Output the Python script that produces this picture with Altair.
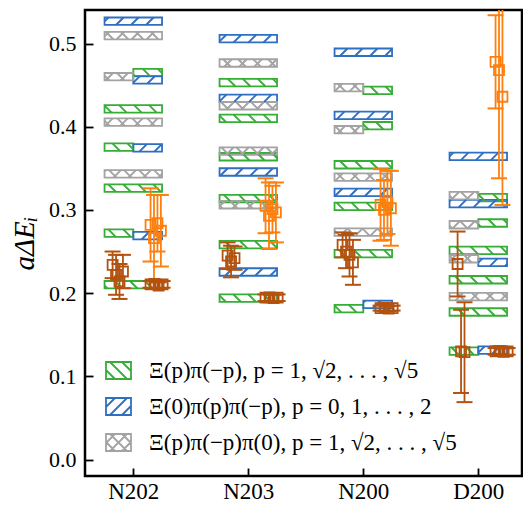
import json
import numpy as np
import pandas as pd
import altair as alt

# ---------------- data ----------------
ensembles = ["N202", "N203", "N200", "D200"]

series_labels = [
    "Ξ(p)π(−p),  p = 1, √2, . . . , √5",
    "Ξ(0)π(p)π(−p),  p = 0, 1, . . . , 2",
    "Ξ(p)π(−p)π(0),  p = 1, √2, . . . , √5",
]
series_colors = ["#36ad36", "#2e6fc1", "#a3a3a3"]
series_hatch = ["back", "fwd", "cross"]

# non-interacting levels: (ensemble, value, slot)
green_levels = [
    ("N202", 0.4651, "right"), ("N202", 0.4215, "full"), ("N202", 0.3754, "left"),
    ("N202", 0.3263, "full"), ("N202", 0.2722, "left"), ("N202", 0.2101, "full"),
    ("N203", 0.4531, "full"), ("N203", 0.4101, "full"), ("N203", 0.3639, "full"),
    ("N203", 0.3135, "full"), ("N203", 0.2582, "full"), ("N203", 0.1941, "full"),
    ("N200", 0.4438, "right"), ("N200", 0.4012, "right"), ("N200", 0.3543, "full"),
    ("N200", 0.3043, "full"), ("N200", 0.2474, "full"), ("N200", 0.1813, "left"),
    ("D200", 0.3147, "right"), ("D200", 0.2843, "right"), ("D200", 0.2514, "full"),
    ("D200", 0.2161, "full"), ("D200", 0.1773, "full"), ("D200", 0.1304, "left"),
]
blue_levels = [
    ("N202", 0.5268, "full"), ("N202", 0.4564, "right"), ("N202", 0.3746, "right"),
    ("N202", 0.2690, "right"),
    ("N203", 0.5058, "full"), ("N203", 0.4341, "full"), ("N203", 0.3456, "full"),
    ("N203", 0.2254, "full"),
    ("N200", 0.4895, "full"), ("N200", 0.4137, "full"), ("N200", 0.3212, "full"),
    ("N200", 0.1865, "right"),
    ("D200", 0.3644, "full"), ("D200", 0.3075, "full"), ("D200", 0.2370, "right"),
    ("D200", 0.1316, "right"),
]
gray_levels = [
    ("N202", 0.5096, "full"), ("N202", 0.4601, "left"), ("N202", 0.4056, "full"),
    ("N202", 0.3434, "full"),
    ("N203", 0.4766, "full"), ("N203", 0.4252, "full"), ("N203", 0.3708, "full"),
    ("N203", 0.3062, "full"),
    ("N200", 0.4469, "left"), ("N200", 0.3964, "left"), ("N200", 0.3395, "full"),
    ("N200", 0.2734, "full"),
    ("D200", 0.3171, "left"), ("D200", 0.2822, "left"), ("D200", 0.2413, "left"),
    ("D200", 0.1957, "full"),
]

# fitted energies (value, error) per ensemble
ground_left = {
    "N202": [(0.234, 0.016), (0.222, 0.024), (0.214, 0.021), (0.226, 0.020)],
    "N203": [(0.245, 0.016), (0.238, 0.019), (0.242, 0.014)],
    "N200": [(0.258, 0.015), (0.250, 0.020), (0.246, 0.026), (0.237, 0.027)],
    "D200": [(0.235, 0.039), (0.130, 0.050), (0.129, 0.060)],
}
ground_right = {
    "N202": [(0.2105, 0.004), (0.211, 0.005), (0.209, 0.004), (0.2105, 0.004)],
    "N203": [(0.1945, 0.004), (0.195, 0.005), (0.194, 0.004), (0.1945, 0.004)],
    "N200": [(0.182, 0.003), (0.1825, 0.004), (0.1815, 0.003), (0.182, 0.003)],
    "D200": [(0.130, 0.004), (0.1305, 0.005), (0.1295, 0.004), (0.130, 0.004)],
}
excited = {
    "N202": [(0.282, 0.044), (0.266, 0.052), (0.284, 0.034), (0.275, 0.043)],
    "N203": [(0.305, 0.033), (0.293, 0.040), (0.301, 0.028), (0.297, 0.036)],
    "N200": [(0.306, 0.043), (0.300, 0.036), (0.309, 0.038), (0.302, 0.045)],
    "D200": [(0.478, 0.056), (0.468, 0.130), (0.436, 0.130)],
}

y_ticks = [0.0, 0.1, 0.2, 0.3, 0.4, 0.5]

# ---------------- layout helpers ----------------
W, H = 437, 466
XMIN, XMAX = -0.42, 3.38
YMIN = -0.0198
YMAX = YMIN + H / 832.0
XS = W / (XMAX - XMIN)
YS = H / (YMAX - YMIN)
HALF_W = 0.25
BOX_H = 0.009
PERIOD = 15.0
LIGHT = "#ff7f0e"
DARK = "#b3520f"


def hatch_segments(x0, x1, y0, y1, kind, period):
    segs = []
    dirs = []
    if kind in ("fwd", "cross"):
        dirs.append(1)
    if kind in ("back", "cross"):
        dirs.append(-1)
    for d in dirs:
        if d == 1:
            cmin, cmax = x0 - y1, x1 - y0
        else:
            cmin, cmax = x0 + y0, x1 + y1
        for k in range(int(np.ceil(cmin / period)), int(np.floor(cmax / period)) + 1):
            c = k * period
            if d == 1:
                lo, hi = max(y0, x0 - c), min(y1, x1 - c)
                if hi - lo > 0.3:
                    segs.append((c + lo, lo, c + hi, hi))
            else:
                lo, hi = max(y0, c - x1), min(y1, c - x0)
                if hi - lo > 0.3:
                    segs.append((c - lo, lo, c - hi, hi))
    return segs


box_rows, hatch_rows, legend_rows = [], [], []
for label, color, kind, levels in zip(series_labels, series_colors, series_hatch,
                                      [green_levels, blue_levels, gray_levels]):
    for ens, val, slot in levels:
        c = ensembles.index(ens)
        x0 = c - HALF_W if slot in ("full", "left") else c
        x1 = c + HALF_W if slot in ("full", "right") else c
        y0, y1 = val - BOX_H / 2, val + BOX_H / 2
        box_rows.append(dict(x0=x0, x1=x1, y0=y0, y1=y1, col=color))
        legend_rows.append(dict(xc=(x0 + x1) / 2, yc=val, series=label))
        for a, b, cc, dd in hatch_segments((x0 - XMIN) * XS, (x1 - XMIN) * XS,
                                           (y0 - YMIN) * YS, (y1 - YMIN) * YS,
                                           kind, PERIOD):
            hatch_rows.append(dict(hx=a / XS + XMIN, hy=b / YS + YMIN,
                                   hx2=cc / XS + XMIN, hy2=dd / YS + YMIN, col=color))

boxes = pd.DataFrame(box_rows)
hatches = pd.DataFrame(hatch_rows)
legend_df = pd.DataFrame(legend_rows)


def legend_path(kind):
    hw, hh, per = 1.0, 0.68, 0.96
    p = f"M{-hw},{-hh}L{hw},{-hh}L{hw},{hh}L{-hw},{hh}Z"
    for a, b, c, d in hatch_segments(-hw, hw, -hh, hh, kind, per):
        p += f"M{a:.3f},{-b:.3f}L{c:.3f},{-d:.3f}"
    return p


legend_paths = [legend_path(k) for k in series_hatch]

CAP = 8.0 / XS


def fit_frame(groups, base, step):
    rows = []
    for ens, pts in groups.items():
        c = ensembles.index(ens)
        for i, (v, e) in enumerate(pts):
            xp = c + base + step * i
            rows.append(dict(xp=xp, v=v, lo=v - e, hi=v + e,
                             cx0=xp - CAP, cx1=xp + CAP))
    return pd.DataFrame(rows)


exc_df = fit_frame(excited, 0.15, 0.03)
gl_df = fit_frame(ground_left, -0.18, 0.03)
gr_df = fit_frame(ground_right, 0.15, 0.035)

# ---------------- chart ----------------
FONT = "Liberation Serif"
xscale = alt.Scale(domain=[XMIN, XMAX], nice=False, zero=False)
yscale = alt.Scale(domain=[YMIN, YMAX], nice=False, zero=False)
xaxis = alt.Axis(values=list(range(len(ensembles))),
                 labelExpr=f"{json.dumps(ensembles)}[datum.value]",
                 title=None, grid=False, domain=False, offset=-8, tickSize=8,
                 labelPadding=4, labelFontSize=23)
yaxis = alt.Axis(values=y_ticks, format=".1f", title="aΔEᵢ", grid=False,
                 domain=False, offset=-8, tickSize=8, labelPadding=9,
                 labelFontSize=22,
                 titlePadding=9, titleFont=FONT, titleFontSize=29,
                 titleFontStyle="italic", titleFontWeight="normal")

rects = alt.Chart(boxes).mark_rect(filled=False, strokeWidth=1.8).encode(
    x=alt.X("x0:Q", scale=xscale, axis=xaxis),
    x2="x1:Q",
    y=alt.Y("y0:Q", scale=yscale, axis=yaxis),
    y2="y1:Q",
    color=alt.Color("col:N", scale=None),
)

hatch = alt.Chart(hatches).mark_rule(strokeWidth=1.9).encode(
    x="hx:Q", x2="hx2:Q", y="hy:Q", y2="hy2:Q",
    color=alt.Color("col:N", scale=None),
)

leg_kw = dict(title=None, orient="none", legendX=20, legendY=347,
              direction="vertical", labelFont=FONT, labelFontSize=23,
              labelOffset=17, rowPadding=10, symbolStrokeWidth=1.8,
              symbolSize=625, symbolOpacity=1, labelLimit=500, padding=0,
              labelColor="black")
legend_pts = alt.Chart(legend_df).mark_point(filled=False, opacity=0).encode(
    x="xc:Q", y="yc:Q",
    color=alt.Color("series:N", scale=alt.Scale(domain=series_labels, range=series_colors),
                    legend=alt.Legend(**leg_kw)),
    shape=alt.Shape("series:N", scale=alt.Scale(domain=series_labels, range=legend_paths),
                    legend=alt.Legend(**leg_kw)),
)


def errbars(df, color):
    base = alt.Chart(df)
    bars = base.mark_rule(color=color, strokeWidth=1.8, clip=True).encode(
        x="xp:Q", y="lo:Q", y2="hi:Q")
    cap_lo = base.mark_rule(color=color, strokeWidth=2, clip=True).encode(
        x="cx0:Q", x2="cx1:Q", y="lo:Q")
    cap_hi = base.mark_rule(color=color, strokeWidth=2, clip=True).encode(
        x="cx0:Q", x2="cx1:Q", y="hi:Q")
    pts = base.mark_point(shape="square", filled=False, size=100, color=color,
                          strokeWidth=1.8, opacity=1, clip=True).encode(
        x="xp:Q", y="v:Q")
    return [bars, cap_lo, cap_hi, pts]


layers = [rects, hatch, legend_pts] + errbars(exc_df, LIGHT) + errbars(gl_df, DARK) + errbars(gr_df, DARK)

chart = alt.layer(*layers).properties(
    width=W, height=H,
    autosize=alt.AutoSizeParams(type="none"),
    padding={"left": 77, "top": 2, "right": 1, "bottom": 28},
    background="white",
).configure_view(stroke="black", strokeWidth=2.5).configure_axis(
    labelFont=FONT, labelColor="black", tickColor="black",
    tickWidth=1.8, titleColor="black",
)

chart.save("out.html", embed_options={"renderer": "svg", "actions": False})
